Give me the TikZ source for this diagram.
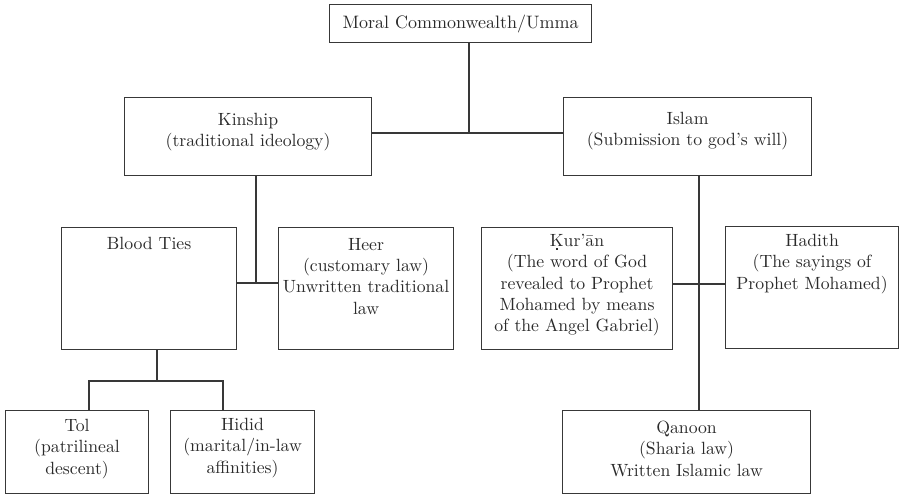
\documentclass[tikz,border=0pt]{standalone}
\usepackage{fontspec}
\setmainfont{lmroman10}[Extension=.otf, UprightFont=*-regular, BoldFont=*-bold, ItalicFont=*-italic, BoldItalicFont=*-bolditalic]
\definecolor{linec}{HTML}{383838}
\definecolor{textc}{HTML}{2A2A2A}
\newcommand\dotunderK{\rlap{\makebox[\fontcharwd\font`K]{\raisebox{-3.4pt}{\rule{1.8pt}{1.8pt}}}}K}
\begin{document}
\begin{tikzpicture}[x=1pt,y=-1pt,
  box/.style={draw=linec, line width=1.1pt, inner sep=0pt, anchor=north west},
  txt/.style={anchor=north, align=center, inner sep=0pt, text=textc, font=\fontsize{17.7}{21.3}\selectfont},
  link/.style={draw=linec, line width=1.1pt}]
\useasboundingbox (0,0) rectangle (900,495);

\node[box, minimum width=262pt, minimum height=38pt, text=textc, font=\fontsize{18}{21.3}\selectfont] (top) at (329,4) {Moral Commonwealth/Umma};

\node[box, minimum width=247pt, minimum height=78pt,
  label={[txt,yshift=-16pt]north:{Kinship\\(traditional ideology)}}] (kin) at (124,97) {};
\node[box, minimum width=248pt, minimum height=78pt,
  label={[txt,yshift=-15pt]north:{Islam\\(Submission to god’s will)}}] (isl) at (563,97) {};

\node[box, minimum width=175pt, minimum height=122pt,
  label={[txt,yshift=-10pt]north:{Blood Ties}}] (blood) at (61,227) {};
\node[box, minimum width=175pt, minimum height=122pt,
  label={[txt,yshift=-11pt]north:{Heer\\(customary law)\\Unwritten traditional\\law}}] (heer) at (278,227) {};

\node[box, minimum width=191pt, minimum height=122pt,
  label={[txt,yshift=-7pt]north:{\dotunderK ur’ān\\(The word of God\\revealed to Prophet\\Mohamed by means\\of the Angel Gabriel)}}] (kur) at (481,227) {};
\node[box, minimum width=173pt, minimum height=122pt,
  label={[txt,yshift=-8pt]north:{Hadith\\(The sayings of\\Prophet Mohamed)}}] (had) at (725,226) {};

\node[box, minimum width=143pt, minimum height=83pt,
  label={[txt,yshift=-9pt]north:{Tol\\(patrilineal\\descent)}}] (tol) at (5,410) {};
\node[box, minimum width=144pt, minimum height=83pt,
  label={[txt,yshift=-8pt]north:{Hidid\\(marital/in-law\\affinities)}}] (hid) at (170,410) {};

\node[box, minimum width=248pt, minimum height=83pt,
  label={[txt,yshift=-11pt]north:{Qanoon\\(Sharia law)\\Written Islamic law}}] (qan) at (562,410) {};

% connectors
\coordinate (j1) at (469,133);
\draw[link] (top.south -| j1) -- (j1);
\draw[link] (kin.east |- j1) -- (isl.west |- j1);

\coordinate (j2) at (256,283);
\draw[link] (kin.south -| j2) -- (j2);
\draw[link] (blood.east |- j2) -- (heer.west |- j2);

\coordinate (j3) at (157,381);
\coordinate (tolc) at (89,381);
\coordinate (hidc) at (223,381);
\draw[link] (blood.south -| j3) -- (j3);
\draw[link] (tol.north -| tolc) -- (tolc) -- (hidc) -- (hid.north -| hidc);

\coordinate (j4) at (699,284);
\draw[link] (isl.south -| j4) -- (qan.north -| j4);
\draw[link] (kur.east |- j4) -- (had.west |- j4);
\end{tikzpicture}
\end{document}
